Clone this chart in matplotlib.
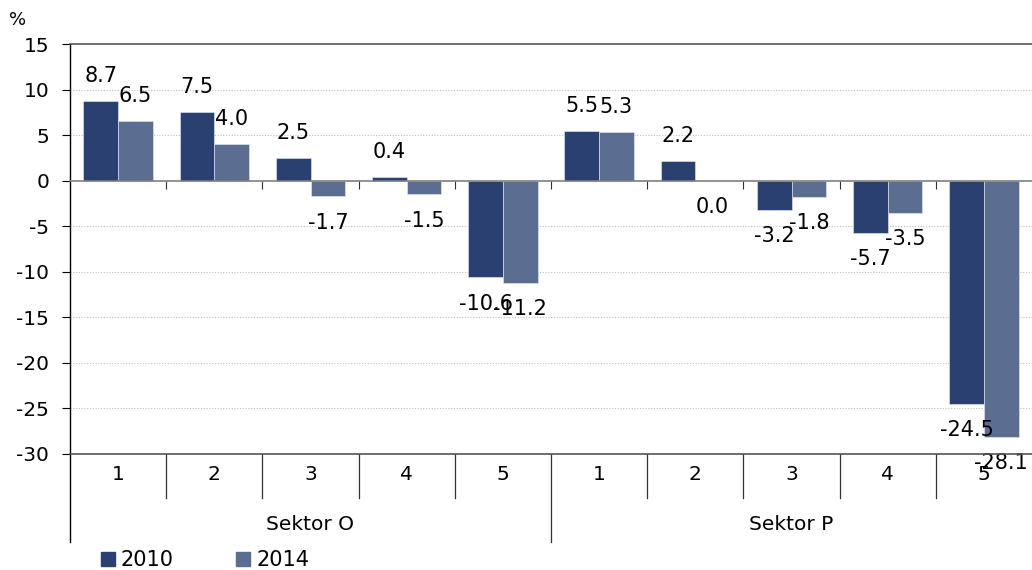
import numpy as np
import matplotlib.pyplot as plt
from matplotlib.lines import Line2D
from matplotlib.patches import Patch

plt.rcParams['font.family'] = ['DejaVu Sans']

# data
sectors = ['Sektor O', 'Sektor P']
categories = ['1', '2', '3', '4', '5', '1', '2', '3', '4', '5']
vals_2010 = [8.7, 7.5, 2.5, 0.4, -10.6, 5.5, 2.2, -3.2, -5.7, -24.5]
vals_2014 = [6.5, 4.0, -1.7, -1.5, -11.2, 5.3, 0.0, -1.8, -3.5, -28.1]
series_names = ['2010', '2014']
y_ticks = [15, 10, 5, 0, -5, -10, -15, -20, -25, -30]

c_2010 = '#294070'
c_2014 = '#5B6E91'
fs = 14.5

fig = plt.figure(figsize=(10.32, 5.70), dpi=100)
ax = fig.add_axes([70/1032, 116/570, 1 - 70/1032, 410/570])

x = np.arange(len(categories))
w = 0.36
ax.bar(x - w/2, vals_2010, w, color=c_2010, edgecolor='#E8ECF2', linewidth=0.4, zorder=3)
ax.bar(x + w/2, vals_2014, w, color=c_2014, edgecolor='#E8ECF2', linewidth=0.4, zorder=3)

for xs, vs in [(x - w/2, vals_2010), (x + w/2, vals_2014)]:
    for xi, v in zip(xs, vs):
        off = 18 if v > 0 else -19
        ax.annotate(f'{v:.1f}', (xi, v), xytext=(0, off), textcoords='offset points',
                    ha='center', va='center', fontsize=fs + 0.5, zorder=4)

ax.set_xlim(-0.5, 9.5)
ax.set_ylim(-30, 15)
ax.set_yticks(y_ticks)
ax.set_yticklabels([str(t) for t in y_ticks], fontsize=fs)
ax.tick_params(axis='y', length=6, width=0.8, pad=9, direction='out')

# gridlines
for t in y_ticks:
    if t not in (15, 0, -30):
        ax.axhline(t, color='#C0C0C0', linestyle=(0, (1, 1.5)), linewidth=0.8, zorder=1)

# bottom spine at zero, with boundary ticks
ax.spines['bottom'].set_position(('data', 0))
ax.spines['bottom'].set_color('#808080')
ax.spines['bottom'].set_linewidth(1.2)
ax.spines['bottom'].set_zorder(4)
ax.set_xticks(np.arange(0.5, 9.5, 1))
ax.set_xticklabels([])
ax.tick_params(axis='x', length=6, width=0.8, direction='out', color='#333333')
ax.spines['right'].set_visible(False)
ax.spines['top'].set_color('#555555')
ax.spines['top'].set_linewidth(1.2)
ax.spines['left'].set_linewidth(1.0)
ax.axhline(-30, color='#555555', linewidth=1.2, clip_on=False, zorder=4)

# category labels and separators below the plot
trans = ax.get_xaxis_transform()
for i, c in enumerate(categories):
    ax.text(i, -0.049, c, transform=trans, ha='center', va='center', fontsize=fs)
for b in np.arange(0.5, 9.5, 1):
    bottom = -0.215 if b == 4.5 else -0.107
    ax.add_line(Line2D([b, b], [0, bottom], transform=trans, color='#333333',
                       linewidth=0.9, clip_on=False))
ax.add_line(Line2D([-0.5, -0.5], [0, -0.215], transform=trans, color='black',
                   linewidth=1.0, clip_on=False))
ax.text(2, -0.173, sectors[0], transform=trans, ha='center', va='center', fontsize=fs)
ax.text(7, -0.173, sectors[1], transform=trans, ha='center', va='center', fontsize=fs)

fig.text(18/1032, 1 - 20/570, '%', ha='center', va='center', fontsize=13)

handles = [Patch(color=c_2010), Patch(color=c_2014)]
fig.legend(handles, series_names, loc='center left', bbox_to_anchor=(101/1032, 10/570),
           ncol=2, frameon=False, fontsize=fs + 0.5, handlelength=0.65, handleheight=0.65,
           handletextpad=0.3, columnspacing=3.0, borderpad=0, borderaxespad=0)

fig.savefig('out.png', dpi=100)
